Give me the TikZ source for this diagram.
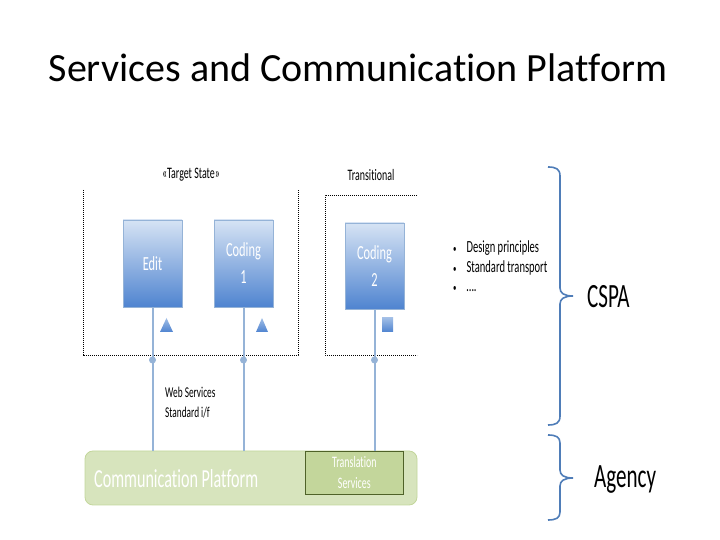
\documentclass[tikz,border=0pt]{standalone}
\usepackage{fontspec}
\setmainfont[Ligatures=NoCommon]{Carlito}
\newfontfamily\condf[FakeStretch=0.62,Ligatures=NoCommon]{Carlito}
\definecolor{boxtop}{HTML}{D6E3F4}
\definecolor{boxbot}{HTML}{4F84D0}
\definecolor{boxedge}{HTML}{95B3D7}
\definecolor{linec}{HTML}{95B3D7}
\definecolor{platfill}{HTML}{D7E4BD}
\definecolor{platedge}{HTML}{C3D69B}
\definecolor{transfill}{HTML}{C3D69B}
\definecolor{transedge}{HTML}{4F6228}
\definecolor{bracec}{HTML}{4F7DB8}
\tikzset{
  svcbox/.style={draw=boxedge, line width=0.6pt, top color=boxtop, bottom color=boxbot,
    minimum width=59pt, minimum height=87pt, inner sep=0pt, text=white, align=center,
    font=\condf\fontsize{20}{27}\selectfont},
  marker/.style={draw=none, top color=boxtop!60!boxbot, bottom color=boxbot},
  conn/.style={draw=linec, line width=2pt},
  dotc/.style={circle, fill=linec, inner sep=0pt, minimum size=7pt},
  dotline/.style={draw=black, line width=0.7pt, dash pattern=on 1.2pt off 0.8pt},
  smalltxt/.style={font=\condf\fontsize{16}{20}\selectfont, inner sep=0pt},
  bullettxt/.style={anchor=west, font=\condf\fontsize{17}{18}\selectfont, inner sep=0pt},
  bigtxt/.style={font=\condf\fontsize{34}{38}\selectfont, inner sep=0pt},
  bracestyle/.style={draw=bracec, line width=1.6pt}
}
\begin{document}
\begin{tikzpicture}[x=1pt,y=1pt]
\useasboundingbox (0,0) rectangle (720,540);
% title
\node[font=\fontsize{40}{44}\selectfont, inner sep=0pt] (title) at (358,472) {Services and Communication Platform};
% group labels
\node[smalltxt] (tslabel) at (191,365) {«Target State»};
\node[smalltxt] (trlabel) at (371,365) {Transitional};
% group frames
\draw[dotline] (83,350) -- (83,185) -- (298,185) -- (298,350);
\draw[dotline] (417,345) -- (325,345) -- (325,185) -- (417,185);
% platform
\node[draw=platedge, fill=platfill, rounded corners=8pt, line width=0.8pt,
  minimum width=332pt, minimum height=54pt, inner sep=0pt] (plat) at (251,62) {};
\node[anchor=west, text=white, font=\condf\fontsize{26}{30}\selectfont, inner sep=0pt] (plattext) at (94,61) {Communication Platform};
\node[draw=transedge, fill=transfill, line width=0.7pt, minimum width=98pt, minimum height=43pt,
  inner sep=0pt, text=white, align=center, font=\condf\fontsize{16}{21}\selectfont,
  anchor=north west] (trans) at (305,89) {Translation\\Services};
% service boxes
\node[svcbox] (edit) at (152.5,276.5) {Edit};
\node[svcbox] (cod1) at (243.5,276.5) {Coding\\1};
\node[svcbox, minimum height=86pt] (cod2) at (374.5,274) {Coding\\2};
% markers
\path[marker] (160,208) -- (173,208) -- (166.5,222) -- cycle;
\path[marker] (256,208) -- (268,208) -- (262,222) -- cycle;
\path[marker] (382,208) rectangle (393,222);
% connectors
\coordinate (e1) at (edit.south |- plat.north);
\coordinate (c1) at (cod1.south |- plat.north);
\coordinate (c2) at (cod2.south |- trans.north);
\draw[conn] (edit.south) -- (e1);
\draw[conn] (cod1.south) -- (c1);
\draw[conn] (cod2.south) -- (c2);
\node[dotc] (d1) at (edit.south |- 0,180) {};
\node[dotc] (d2) at (cod1.south |- 0,180) {};
\node[dotc] (d3) at (cod2.south |- 0,180) {};
% web services label
\node[anchor=west, align=left, font=\condf\fontsize{15}{20}\selectfont, inner sep=0pt] (ws) at (165,137) {Web Services\\Standard i/f};
% bullets
\node[bullettxt] (b1) at (453,292) {{\fontsize{11}{11}\selectfont•}\hspace{10pt}Design principles};
\node[bullettxt] (b2) at (453,272) {{\fontsize{11}{11}\selectfont•}\hspace{10pt}Standard transport};
\node[bullettxt] (b3) at (453,251) {{\fontsize{11}{11}\selectfont•}\hspace{10pt}….};
% braces
\draw[bracestyle] (548,373) .. controls (556,373) and (560,371) .. (560,364) -- (560,252)
  .. controls (560,247) and (564,244) .. (573,244)
  .. controls (564,244) and (560,241) .. (560,236) -- (560,124)
  .. controls (560,117) and (556,115) .. (548,115);
\draw[bracestyle] (548,105) .. controls (556,105) and (560,103) .. (560,97) -- (560,70)
  .. controls (560,65) and (564,62) .. (573,62)
  .. controls (564,62) and (560,59) .. (560,54) -- (560,28)
  .. controls (560,22) and (556,20) .. (548,20);
\node[bigtxt, anchor=west] (cspa) at (587,243) {CSPA};
\node[bigtxt, anchor=west] (agency) at (594,60) {Agency};
\end{tikzpicture}
\end{document}
